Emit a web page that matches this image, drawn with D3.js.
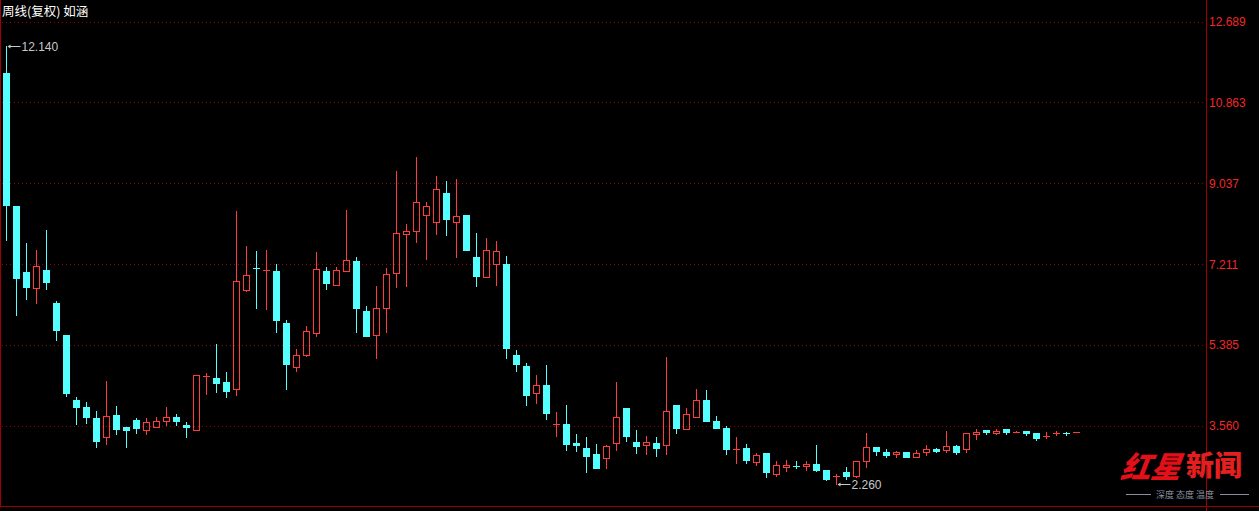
<!DOCTYPE html>
<html><head><meta charset="utf-8">
<script src="https://cdn.jsdelivr.net/npm/d3@7"></script>
<style>
html,body{margin:0;padding:0;background:#000;overflow:hidden}
svg{display:block}
</style></head>
<body>
<svg id="c" width="1259" height="511"></svg>
<script>
// weekly candles: open, high, low, close
const opens  = [11.53,8.53,7.04,6.68,7.08,6.34,5.61,4.15,3.99,3.73,3.32,3.81,3.54,3.70,3.48,3.54,3.68,3.76,3.58,3.48,
  4.67,4.64,4.55,4.40,6.64,7.13,7.06,7.06,5.88,4.90,5.17,5.65,7.06,6.75,7.05,7.28,6.16,5.61,6.22,7.01,
  7.89,7.95,8.32,8.16,8.82,8.16,8.32,7.37,6.93,7.22,7.22,5.16,4.91,4.31,4.49,3.59,3.61,3.18,3.06,2.93,
  2.84,3.18,3.97,3.20,3.14,3.18,3.12,4.03,3.50,3.77,4.15,3.67,3.51,3.03,3.06,2.75,2.95,2.48,2.64,2.66,
  2.66,2.70,2.57,2.42,2.52,2.44,2.76,3.09,2.97,2.93,2.97,2.86,2.97,3.03,3.02,3.11,3.04,3.38,3.47,3.40,
  3.49,3.40,3.45,3.40,3.31,3.38,3.40,3.40];
const highs  = [12.14,8.53,7.70,7.53,7.98,6.38,5.61,4.22,4.10,3.90,4.58,4.01,3.54,3.75,3.74,3.76,3.99,3.83,3.65,4.70,
  4.76,5.41,4.78,8.41,7.62,7.51,7.53,7.22,5.95,5.30,5.82,7.49,7.15,7.14,8.43,7.37,6.27,6.72,7.13,9.32,
  8.12,9.63,8.62,9.20,9.08,9.13,8.32,7.92,7.80,7.74,7.40,5.28,4.98,4.71,4.94,3.88,4.03,3.38,3.31,3.15,
  3.13,4.55,3.97,3.47,3.33,3.31,5.12,4.03,3.97,4.40,4.37,3.79,3.56,3.31,3.15,2.95,2.96,2.77,2.79,2.77,
  2.77,3.13,2.57,2.48,2.63,2.77,3.40,3.09,3.04,3.00,2.97,3.02,3.13,3.06,3.45,3.13,3.40,3.49,3.47,3.49,
  3.49,3.45,3.45,3.40,3.42,3.45,3.42,3.42];
const lows   = [7.76,6.07,6.43,6.34,6.65,5.50,4.24,3.61,3.63,3.09,3.15,3.38,3.09,3.41,3.39,3.54,3.59,3.59,3.31,3.48,
  4.29,4.33,4.22,4.27,6.61,6.23,6.21,5.69,4.40,4.79,5.15,5.58,6.65,6.75,7.05,5.69,5.59,5.10,5.69,6.70,
  6.73,7.72,7.34,7.90,7.86,7.38,7.54,6.73,6.93,6.75,5.10,4.79,4.04,4.09,3.72,3.34,3.02,3.00,2.52,2.61,
  2.61,3.02,3.22,2.95,2.93,2.88,2.93,3.40,3.50,3.77,3.68,3.52,2.93,2.73,2.73,2.69,2.42,2.44,2.55,2.61,
  2.57,2.54,2.34,2.26,2.36,2.41,2.63,2.91,2.86,2.86,2.86,2.86,2.91,2.97,2.97,2.93,2.97,3.27,3.38,3.38,
  3.38,3.40,3.36,3.24,3.29,3.36,3.36,3.40];
const closes = [8.55,6.91,6.70,7.17,6.82,5.73,4.30,4.00,3.77,3.23,3.79,3.50,3.48,3.52,3.65,3.67,3.76,3.68,3.54,4.70,
  4.69,4.54,4.36,6.83,6.96,7.10,7.08,5.96,4.97,5.16,5.70,7.10,6.79,7.07,7.30,6.23,5.59,6.22,6.98,7.91,
  7.95,8.61,8.52,8.90,8.24,8.29,7.54,6.95,7.53,7.50,5.33,4.97,4.27,4.49,3.86,3.61,3.15,3.13,2.88,2.61,
  3.11,3.76,3.33,3.11,3.21,3.07,3.90,3.51,3.83,4.15,3.68,3.52,3.03,3.04,2.80,2.91,2.53,2.68,2.68,2.64,
  2.70,2.57,2.36,2.44,2.43,2.77,3.09,3.00,2.91,2.97,2.86,2.95,3.04,3.00,3.11,2.97,3.40,3.42,3.42,3.45,
  3.42,3.42,3.40,3.29,3.33,3.40,3.38,3.42];
const tickValues = [12.689, 10.863, 9.037, 7.211, 5.385, 3.560];
const title = "周线(复权) 如涵";
const maxLabel = "12.140", minLabel = "2.260";
const maxIndex = 0, minIndex = 83, maxValue = 12.14, minValue = 2.26;

const UP = "#ff3b3b", DOWN = "#54ffff";
const svg = d3.select("#c");
const W = 1259, H = 511, plotRight = 1206, plotBottom = 506;

const data = opens.map((o,i)=>({i, o, h:highs[i], l:lows[i], c:closes[i]}));
const x = d3.scaleBand().domain(data.map(d=>d.i)).range([1.5, 1081.5]).paddingInner(0.3).paddingOuter(0.15);
const y = d3.scaleLinear().domain([3.56, 12.689]).range([426, 21.5]);

svg.append("rect").attr("width",W).attr("height",H).attr("fill","#000");

// grid lines
svg.append("g").selectAll("line").data(tickValues).join("line")
  .attr("x1",2).attr("x2",plotRight)
  .attr("y1",d=>Math.round(y(d))+0.5).attr("y2",d=>Math.round(y(d))+0.5)
  .attr("stroke","#a00000").attr("stroke-dasharray","1,3");

// axis
const axis = d3.axisRight(y).tickValues(tickValues).tickSize(0).tickPadding(0).tickFormat(d3.format(".3f"));
const ag = svg.append("g").attr("transform",`translate(${plotRight+3},0)`).call(axis);
ag.select(".domain").remove();
ag.selectAll("text").attr("fill","#f02828").attr("font-family","Liberation Sans, Arial, sans-serif").attr("font-size",12);

// frame
svg.append("line").attr("x1",0.5).attr("x2",0.5).attr("y1",0).attr("y2",plotBottom).attr("stroke","#a00000");
svg.append("line").attr("x1",plotRight+0.5).attr("x2",plotRight+0.5).attr("y1",0).attr("y2",H).attr("stroke","#a00000");
svg.append("line").attr("x1",0).attr("x2",W).attr("y1",plotBottom+0.5).attr("y2",plotBottom+0.5).attr("stroke","#a00000");

// candles
const R = v => Math.round(y(v));
const g = svg.append("g").attr("shape-rendering","crispEdges");
data.forEach(d=>{
  const up = d.c >= d.o;
  const col = up ? UP : DOWN;
  const bx = x(d.i), bw = x.bandwidth();
  const cx = bx + Math.floor(bw/2) + 0.5;
  const top = R(Math.max(d.o,d.c)), bot = R(Math.min(d.o,d.c));
  const yh = R(d.h), yl = R(d.l);
  if (yh < top) g.append("line").attr("x1",cx).attr("x2",cx).attr("y1",yh).attr("y2",top).attr("stroke",col);
  if (yl > bot) g.append("line").attr("x1",cx).attr("x2",cx).attr("y1",bot).attr("y2",yl+1).attr("stroke",col);
  if (bot - top <= 1) {
    g.append("rect").attr("x",bx).attr("y",top).attr("width",bw).attr("height",Math.max(1,bot-top)).attr("fill",col);
  } else if (up) {
    g.append("rect").attr("x",bx+0.5).attr("y",top+0.5).attr("width",bw-1).attr("height",bot-top)
      .attr("fill","none").attr("stroke",col);
  } else {
    g.append("rect").attr("x",bx).attr("y",top).attr("width",bw).attr("height",bot-top+1).attr("fill",col);
  }
});

// title
svg.append("text").attr("x",2).attr("y",16).text(title)
  .attr("fill","#fff").attr("font-family","Noto Sans CJK SC, sans-serif").attr("font-size",12.5);

// max/min annotations
function annot(idx, val, label, dy){
  const cx = x(idx) + Math.floor(x.bandwidth()/2) + 0.5;
  const yy = R(val) + 0.5;
  const ag = svg.append("g");
  ag.append("line").attr("x1",cx+2).attr("x2",cx+14).attr("y1",yy).attr("y2",yy).attr("stroke","#c8c8c8");
  ag.append("path").attr("d",`M${cx+1},${yy} l3,-2 l0,4 z`).attr("fill","#c8c8c8");
  ag.append("text").attr("x",cx+15).attr("y",yy+dy).text(label)
    .attr("fill","#c8c8c8").attr("font-family","Liberation Sans, Arial, sans-serif").attr("font-size",12);
}
annot(maxIndex, maxValue, maxLabel, 4);
annot(minIndex, minValue, minLabel, 4);

// watermark
const wm = svg.append("g");
wm.append("text").attr("x",1124).attr("y",478).text("红星")
  .attr("fill","#e3101a").attr("font-family","Noto Sans CJK SC, sans-serif").attr("font-weight",900)
  .attr("font-style","italic").attr("font-size",30).attr("transform","skewX(-8) translate(63,0)");
wm.append("text").attr("x",1186).attr("y",476).text("新闻")
  .attr("fill","#e3201f").attr("font-family","Noto Sans CJK SC, sans-serif").attr("font-weight",900).attr("font-size",28);
wm.append("text").attr("x",1156).attr("y",498).text("深度 态度 温度")
  .attr("fill","#8a8fa0").attr("font-family","Noto Sans CJK SC, sans-serif").attr("font-size",9);
wm.append("line").attr("x1",1126).attr("x2",1151).attr("y1",494.5).attr("y2",494.5).attr("stroke","#8a8fa0");
wm.append("line").attr("x1",1220).attr("x2",1249).attr("y1",494.5).attr("y2",494.5).attr("stroke","#8a8fa0");
</script>
</body></html>
